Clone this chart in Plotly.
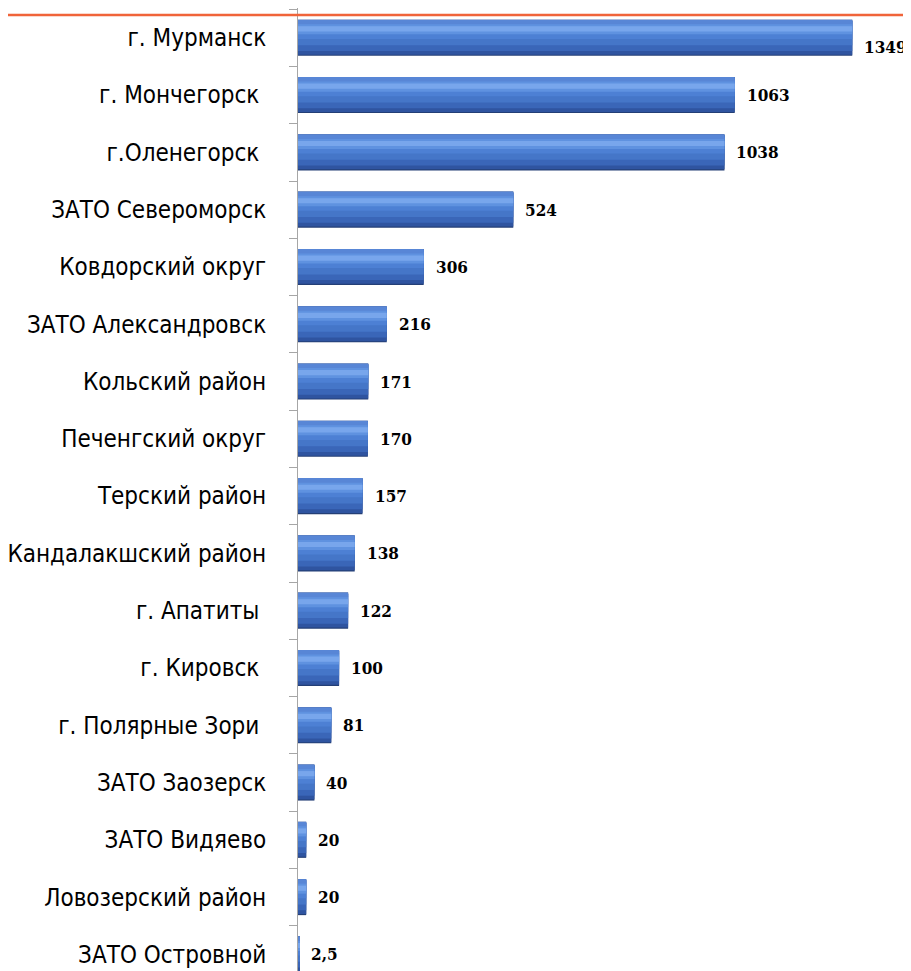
import plotly.graph_objects as go

categories = [
    "г. Мурманск",
    "г. Мончегорск\u00a0",
    "г.Оленегорск\u00a0",
    "ЗАТО Североморск",
    "Ковдорский округ",
    "ЗАТО Александровск",
    "Кольский район",
    "Печенгский округ",
    "Терский район",
    "Кандалакшский район",
    "г. Апатиты\u00a0",
    "г. Кировск\u00a0",
    "г. Полярные Зори\u00a0",
    "ЗАТО Заозерск",
    "ЗАТО Видяево",
    "Ловозерский район",
    "ЗАТО Островной",
]
values = [1349, 1063, 1038, 524, 306, 216, 171, 170, 157, 138, 122, 100, 81, 40, 20, 20, 2.5]
value_labels = ["1349", "1063", "1038", "524", "306", "216", "171", "170", "157", "138",
                "122", "100", "81", "40", "20", "20", "2,5"]

CAT_FONT = "DejaVu Sans Condensed, DejaVu Sans, sans-serif"
VAL_FONT = "DejaVu Serif Condensed, DejaVu Serif, serif"

fig = go.Figure()

# layered stripes to imitate the bevelled gradient bar
stripes = [
    (-0.315, 0.630, "#243f76"),
    (-0.295, 0.600, "#2f54a0"),
    (-0.230, 0.525, "#3a66b8"),
    (-0.130, 0.425, "#4576c8"),
    (-0.020, 0.315, "#4d80d4"),
    (0.060, 0.200, "#5f92e0"),
    (0.110, 0.090, "#78a6ec"),
    (0.235, 0.080, "#5886d6"),
]
for off, w, col in stripes:
    fig.add_trace(go.Bar(
        x=values, y=categories, orientation="h",
        width=w, offset=off,
        marker=dict(color=col, line=dict(width=0)),
        hoverinfo="skip", showlegend=False,
    ))

for cat, v, lab in zip(categories, values, value_labels):
    fig.add_annotation(
        x=v, y=cat, xref="x", yref="y", text=lab, showarrow=False,
        xanchor="left", yanchor="middle", xshift=10,
        yshift=-9 if v == max(values) else 0,
        font=dict(family=VAL_FONT, size=17, color="#000000", weight="bold"),
    )

# orange header rule
fig.add_shape(type="line", xref="paper", yref="paper", x0=-1, x1=2, y0=0.9927, y1=0.9927,
              line=dict(color="#f0643a", width=2.5), layer="above")

fig.update_layout(
    width=903, height=963,
    margin=dict(l=290, r=0, t=0, b=0, autoexpand=False),
    barmode="overlay",
    plot_bgcolor="white", paper_bgcolor="white",
    xaxis=dict(range=[0, 1492], visible=False, fixedrange=True, automargin=False),
    yaxis=dict(
        type="category",
        categoryorder="array", categoryarray=categories[::-1],
        range=[-0.29, 16.52],
        automargin=False,
        showline=True, linecolor="#a6a6a6", linewidth=1,
        ticks="outside", ticklen=8, tickcolor="#a6a6a6", tickwidth=1,
        tickson="boundaries",
        ticklabelstandoff=26,
        showgrid=False,
        tickfont=dict(family=CAT_FONT, size=24, color="#000000"),
    ),
)

fig.write_html("out.html")
